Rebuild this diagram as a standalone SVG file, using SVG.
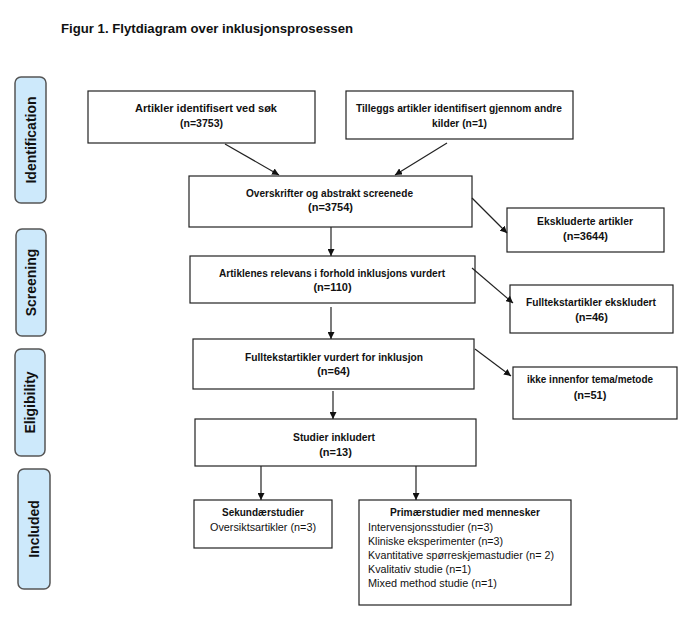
<svg xmlns="http://www.w3.org/2000/svg" width="682" height="633" viewBox="0 0 682 633">
<defs>
<style>
text{font-family:"Liberation Sans",Arial,sans-serif;fill:#111}
.t{font-size:13px;font-weight:bold}
.b{font-size:11px;font-weight:bold;text-anchor:middle}
.r{font-size:11px}
.rc{font-size:11px;text-anchor:middle}
.side rect{fill:#cde9fb;stroke:#555;stroke-width:1.5}
.side text{font-size:14px;font-weight:bold;text-anchor:middle}
.box{fill:#fff;stroke:#222;stroke-width:1.2}
.c line{stroke:#222;stroke-width:1.2;marker-end:url(#ah)}
</style>
<marker id="ah" viewBox="0 0 10 10" refX="10" refY="5" markerWidth="7" markerHeight="7" markerUnits="userSpaceOnUse" orient="auto"><path d="M0,0 L10,5 L0,10 z" fill="#111"/></marker>
</defs>
<rect width="682" height="633" fill="#fff"/>
<text class="t" x="61" y="33" textLength="292" lengthAdjust="spacingAndGlyphs">Figur 1. Flytdiagram over inklusjonsprosessen</text>

<g id="side-identification" class="side"><rect x="15" y="77" width="31" height="126" rx="6"/><text transform="translate(35.5,140) rotate(-90)">Identification</text></g>
<g id="side-screening" class="side"><rect x="16" y="229" width="30" height="107" rx="6"/><text transform="translate(36,282.5) rotate(-90)">Screening</text></g>
<g id="side-eligibility" class="side"><rect x="15" y="349" width="30" height="107" rx="6"/><text transform="translate(35,402.5) rotate(-90)">Eligibility</text></g>
<g id="side-included" class="side"><rect x="18" y="469" width="32" height="120" rx="6"/><text transform="translate(39,529) rotate(-90)">Included</text></g>

<g id="n1"><rect class="box" x="88" y="91" width="227" height="52"/><text class="b" x="206" y="112" textLength="142" lengthAdjust="spacingAndGlyphs">Artikler identifisert ved søk</text><text class="b" x="201.5" y="127" textLength="43" lengthAdjust="spacingAndGlyphs">(n=3753)</text></g>
<g id="n2"><rect class="box" x="346" y="91" width="227" height="48"/><text class="b" x="459" y="112" textLength="206" lengthAdjust="spacingAndGlyphs">Tilleggs artikler identifisert gjennom andre</text><text class="b" x="459.5" y="127" textLength="55" lengthAdjust="spacingAndGlyphs">kilder (n=1)</text></g>
<g id="n3"><rect class="box" x="189" y="176" width="283" height="51"/><text class="b" x="329.5" y="197" textLength="167" lengthAdjust="spacingAndGlyphs">Overskrifter og abstrakt screenede</text><text class="b" x="330.5" y="211">(n=3754)</text></g>
<g id="n4"><rect class="box" x="507" y="208" width="157" height="44"/><text class="b" x="585" y="225" textLength="96" lengthAdjust="spacingAndGlyphs">Ekskluderte artikler</text><text class="b" x="585.5" y="240">(n=3644)</text></g>
<g id="n5"><rect class="box" x="190" y="256" width="285" height="47"/><text class="b" x="332" y="277" textLength="226" lengthAdjust="spacingAndGlyphs">Artiklenes relevans i forhold inklusjons vurdert</text><text class="b" x="332.5" y="291">(n=110)</text></g>
<g id="n6"><rect class="box" x="510" y="285" width="163" height="48"/><text class="b" x="591" y="306" textLength="130" lengthAdjust="spacingAndGlyphs">Fulltekstartikler ekskludert</text><text class="b" x="591.5" y="321">(n=46)</text></g>
<g id="n7"><rect class="box" x="193" y="339" width="281" height="50"/><text class="b" x="334" y="361" textLength="178" lengthAdjust="spacingAndGlyphs">Fulltekstartikler vurdert for inklusjon</text><text class="b" x="333.5" y="375">(n=64)</text></g>
<g id="n8"><rect class="box" x="513" y="367" width="164" height="52"/><text class="b" x="590" y="383" textLength="126" lengthAdjust="spacingAndGlyphs">ikke innenfor tema/metode</text><text class="b" x="590" y="399">(n=51)</text></g>
<g id="n9"><rect class="box" x="195" y="419" width="281" height="47"/><text class="b" x="334" y="441" textLength="82" lengthAdjust="spacingAndGlyphs">Studier inkludert</text><text class="b" x="335.5" y="456">(n=13)</text></g>
<g id="n10"><rect class="box" x="194" y="500" width="138" height="48"/><text class="b" x="263" y="516" textLength="82" lengthAdjust="spacingAndGlyphs">Sekundærstudier</text><text class="rc" x="263" y="531" textLength="106" lengthAdjust="spacingAndGlyphs">Oversiktsartikler (n=3)</text></g>
<g id="n11"><rect class="box" x="359" y="500" width="212" height="105"/><text class="b" x="465" y="516" textLength="150" lengthAdjust="spacingAndGlyphs">Primærstudier med mennesker</text>
<text class="r" x="368" y="531" textLength="125" lengthAdjust="spacingAndGlyphs">Intervensjonsstudier (n=3)</text>
<text class="r" x="368" y="545" textLength="135" lengthAdjust="spacingAndGlyphs">Kliniske eksperimenter (n=3)</text>
<text class="r" x="368" y="559" textLength="186" lengthAdjust="spacingAndGlyphs">Kvantitative spørreskjemastudier (n= 2)</text>
<text class="r" x="368" y="573" textLength="103" lengthAdjust="spacingAndGlyphs">Kvalitativ studie (n=1)</text>
<text class="r" x="368" y="587" textLength="129" lengthAdjust="spacingAndGlyphs">Mixed method studie (n=1)</text></g>

<g id="connectors" class="c">
<line x1="225" y1="144" x2="279" y2="175"/>
<line x1="447" y1="143" x2="395" y2="175"/>
<line x1="331" y1="227" x2="331" y2="256"/>
<line x1="472" y1="198" x2="507" y2="233"/>
<line x1="472" y1="268" x2="513" y2="303"/>
<line x1="331" y1="307" x2="331" y2="339"/>
<line x1="475" y1="349" x2="511" y2="376"/>
<line x1="333" y1="391" x2="333" y2="419"/>
<line x1="261" y1="466" x2="261" y2="500"/>
<line x1="416" y1="466" x2="416" y2="500"/>
</g>
</svg>
